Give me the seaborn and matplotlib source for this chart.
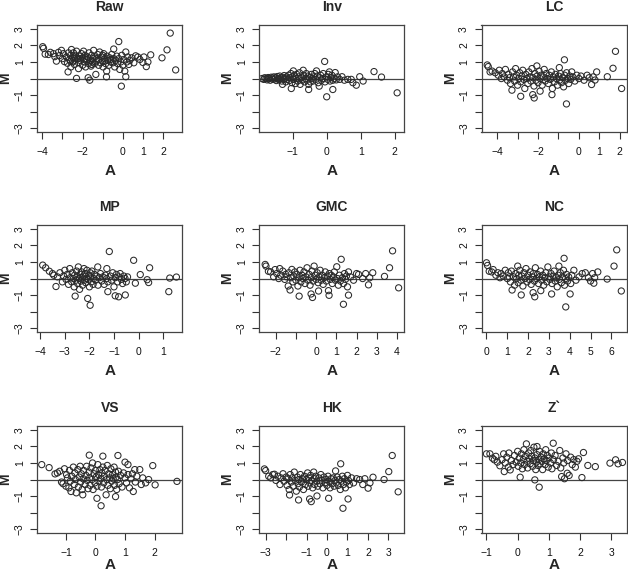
import matplotlib
matplotlib.use("Agg")
import matplotlib.pyplot as plt
import seaborn as sns

titles = ["Raw", "Inv", "LC", "MP", "GMC", "NC", "VS", "HK", "Z`"]

# (A, M) pairs
raw_pts = [
    (-3.98, 1.92), (-3.94, 1.82), (-3.86, 1.47), (-3.7, 1.45), (-3.6, 1.58), (-3.45, 1.5),
    (-3.38, 1.32), (-3.3, 1.05), (-3.2, 1.58), (-3.15, 1.38), (-3.05, 1.7), (-3.0, 1.2),
    (-2.95, 1.5), (-2.9, 1.02), (-2.8, 1.3), (-2.75, 0.92), (-2.72, 0.4), (-2.7, 1.55),
    (-2.65, 1.15), (-2.6, 1.4), (-2.58, 0.7), (-2.55, 1.75), (-2.5, 1.0), (-2.48, 1.25),
    (-2.45, 1.55), (-2.4, 0.85), (-2.38, 1.1), (-2.35, 1.4), (-2.3, 0.01), (-2.3, 1.65),
    (-2.25, 1.2), (-2.2, 0.6), (-2.2, 0.95), (-2.15, 1.35), (-2.1, 1.08), (-2.05, 1.5),
    (-2.0, 0.8), (-2.0, 1.25), (-1.95, 1.65), (-1.9, 1.0), (-1.88, 1.4), (-1.85, 0.7),
    (-1.8, 1.15), (-1.75, 1.3), (-1.72, 0.05), (-1.7, 0.9), (-1.68, 1.55), (-1.64, -0.1),
    (-1.6, 1.1), (-1.58, 0.75), (-1.55, 1.4), (-1.5, 1.0), (-1.48, 1.2), (-1.45, 1.7),
    (-1.4, 0.9), (-1.38, 1.3), (-1.34, 0.25), (-1.3, 1.05), (-1.25, 1.45), (-1.2, 0.8),
    (-1.2, 1.15), (-1.15, 1.6), (-1.1, 0.95), (-1.05, 1.3), (-1.0, 1.05), (-0.98, 0.7),
    (-0.95, 1.5), (-0.9, 1.2), (-0.85, 0.9), (-0.81, 0.1), (-0.8, 0.45), (-0.78, 1.35),
    (-0.75, 1.1), (-0.7, 0.8), (-0.65, 1.25), (-0.6, 1.0), (-0.55, 1.45), (-0.5, 0.95),
    (-0.45, 1.78), (-0.45, 1.2), (-0.4, 0.7), (-0.35, 1.1), (-0.3, 1.35), (-0.25, 0.9),
    (-0.2, 2.23), (-0.2, 1.2), (-0.15, 0.55), (-0.1, 1.0), (-0.07, -0.46), (-0.05, 1.4),
    (0.0, 0.8), (0.05, 1.15), (0.1, 0.45), (0.15, 0.11), (0.15, 1.6), (0.2, 1.0),
    (0.25, 1.3), (0.3, 0.85), (0.35, 1.1), (0.45, 1.25), (0.55, 0.95), (0.64, 1.37),
    (0.75, 1.3), (0.85, 1.15), (1.0, 0.97), (1.05, 1.3), (1.17, 0.72), (1.25, 1.0),
    (1.39, 1.43), (1.95, 1.25), (2.2, 1.73), (2.36, 2.74), (2.63, 0.52),
    (-2.6, 1.05), (-2.1, 1.2), (-1.65, 1.0), (-1.3, 1.2), (-0.9, 1.05), (-1.9, 1.2),
    (-2.4, 1.3), (-1.0, 1.4), (-0.6, 1.15), (-1.55, 0.85),
]

inv_pts = [
    (-1.9, 0.0), (-1.85, -0.05), (-1.82, 0.05), (-1.78, 0.0), (-1.75, -0.08), (-1.72, 0.06),
    (-1.7, 0.0), (-1.66, -0.1), (-1.63, 0.08), (-1.6, 0.02), (-1.58, -0.05), (-1.55, 0.1),
    (-1.52, -0.02), (-1.5, 0.05), (-1.48, -0.12), (-1.45, 0.12), (-1.42, 0.0), (-1.4, -0.08),
    (-1.38, 0.15), (-1.35, 0.03), (-1.32, -0.15), (-1.3, -0.35), (-1.3, 0.08), (-1.27, -0.05),
    (-1.25, 0.18), (-1.22, 0.0), (-1.2, -0.2), (-1.18, 0.1), (-1.15, -0.05), (-1.12, 0.2),
    (-1.1, -0.12), (-1.08, 0.05), (-1.05, 0.3), (-1.04, -0.6), (-1.02, -0.25), (-1.0, 0.1),
    (-0.98, 0.46), (-0.97, -0.05), (-0.95, 0.2), (-0.92, -0.3), (-0.9, 0.0), (-0.88, 0.25),
    (-0.85, -0.15), (-0.82, 0.1), (-0.8, 0.35), (-0.78, -0.35), (-0.75, 0.05), (-0.72, -0.1),
    (-0.69, 0.5), (-0.68, 0.2), (-0.65, -0.2), (-0.62, 0.0), (-0.6, 0.3), (-0.58, -0.1),
    (-0.55, 0.15), (-0.53, -0.35), (-0.53, -0.66), (-0.5, 0.05), (-0.48, -0.2), (-0.45, 0.25),
    (-0.42, 0.0), (-0.4, -0.15), (-0.38, 0.1), (-0.35, 0.3), (-0.32, -0.05), (-0.3, 0.46),
    (-0.28, 0.15), (-0.25, -0.25), (-0.22, -0.46), (-0.2, 0.05), (-0.18, 0.2), (-0.15, -0.1),
    (-0.12, 0.0), (-0.1, 0.3), (-0.06, 1.03), (-0.05, -0.2), (0.0, -1.1), (0.0, 0.1),
    (0.03, -0.05), (0.05, 0.25), (0.08, 0.4), (0.1, -0.15), (0.12, 0.05), (0.15, 0.2),
    (0.18, -0.66), (0.18, -0.1), (0.22, 0.0), (0.25, 0.36), (0.28, -0.08), (0.32, 0.1),
    (0.38, -0.05), (0.45, 0.11), (0.52, -0.1), (0.62, -0.05), (0.72, -0.05), (0.77, -0.25),
    (0.87, -0.4), (0.97, 0.11), (1.07, -0.15), (1.39, 0.42), (1.61, 0.09), (2.07, -0.86),
]

lc_pts = [
    (-4.49, 0.82), (-4.44, 0.72), (-4.35, 0.4), (-4.25, 0.45), (-4.1, 0.35), (-3.95, 0.2),
    (-3.9, 0.5), (-3.8, 0.0), (-3.75, 0.3), (-3.65, 0.1), (-3.6, 0.55), (-3.5, -0.1),
    (-3.45, 0.25), (-3.4, 0.05), (-3.35, -0.3), (-3.28, -0.7), (-3.25, 0.4), (-3.2, 0.1),
    (-3.15, -0.15), (-3.1, 0.6), (-3.05, 0.2), (-3.0, -0.4), (-2.95, 0.0), (-2.9, 0.35),
    (-2.85, -1.07), (-2.85, -0.2), (-2.8, 0.15), (-2.75, 0.5), (-2.7, -0.05), (-2.65, -0.6),
    (-2.6, 0.25), (-2.55, 0.0), (-2.5, -0.3), (-2.45, 0.4), (-2.4, 0.1), (-2.35, -0.15),
    (-2.3, 0.6), (-2.26, -0.97), (-2.25, 0.05), (-2.2, -0.45), (-2.19, -1.17), (-2.15, 0.3),
    (-2.1, -0.1), (-2.06, 0.76), (-2.05, 0.15), (-2.0, -0.25), (-1.95, 0.45), (-1.9, -0.76),
    (-1.9, 0.0), (-1.85, 0.2), (-1.8, -0.4), (-1.75, 0.1), (-1.7, 0.55), (-1.65, -0.15),
    (-1.6, 0.3), (-1.55, 0.0), (-1.5, -0.3), (-1.45, 0.2), (-1.4, -0.05), (-1.35, 0.4),
    (-1.32, -0.97), (-1.3, -0.6), (-1.25, 0.1), (-1.2, -0.2), (-1.15, 0.25), (-1.1, 0.0),
    (-1.05, -0.4), (-1.0, 0.15), (-0.96, 0.66), (-0.95, -0.1), (-0.9, 0.3), (-0.85, -0.25),
    (-0.8, 0.05), (-0.75, -0.5), (-0.71, 1.13), (-0.7, 0.2), (-0.65, -0.1), (-0.61, -1.53),
    (-0.6, 0.35), (-0.55, 0.0), (-0.5, -0.3), (-0.45, 0.15), (-0.4, -0.05), (-0.35, 0.4),
    (-0.3, 0.1), (-0.2, -0.15), (-0.1, 0.2), (0.0, 0.0), (0.1, 0.15), (0.25, -0.1),
    (0.4, 0.2), (0.5, 0.05), (0.62, -0.36), (0.7, 0.1), (0.79, -0.09), (0.87, 0.4),
    (1.39, 0.11), (1.67, 0.62), (1.79, 1.64), (2.09, -0.6),
]

mp_pts = [
    (-3.9, 0.81), (-3.78, 0.65), (-3.63, 0.44), (-3.5, 0.3), (-3.45, 0.2), (-3.36, -0.48),
    (-3.3, 0.1), (-3.2, 0.35), (-3.1, -0.2), (-3.05, 0.15), (-3.0, 0.5), (-2.95, -0.05),
    (-2.9, 0.25), (-2.85, -0.35), (-2.8, 0.6), (-2.78, 0.05), (-2.72, -0.2), (-2.7, 0.35),
    (-2.65, 0.0), (-2.62, -0.5), (-2.6, 0.2), (-2.58, -1.06), (-2.55, -0.1), (-2.52, 0.45),
    (-2.5, 0.1), (-2.48, -0.3), (-2.45, 0.7), (-2.42, 0.0), (-2.4, -0.65), (-2.38, 0.25),
    (-2.35, -0.15), (-2.32, 0.4), (-2.3, 0.05), (-2.28, -0.4), (-2.25, 0.15), (-2.22, 0.6),
    (-2.2, -0.1), (-2.18, 0.3), (-2.15, -0.25), (-2.12, 0.0), (-2.1, 0.5), (-2.07, -1.2),
    (-2.05, -0.05), (-2.02, 0.2), (-2.0, -0.5), (-1.97, -1.61), (-1.97, 0.35), (-1.95, 0.1),
    (-1.92, -0.2), (-1.9, 0.45), (-1.85, -0.35), (-1.82, 0.0), (-1.8, 0.25), (-1.75, -0.1),
    (-1.7, 0.15), (-1.66, 0.7), (-1.65, -0.4), (-1.6, 0.05), (-1.55, 0.3), (-1.5, -0.15),
    (-1.45, 0.1), (-1.4, -0.35), (-1.35, 0.2), (-1.3, 0.0), (-1.29, 0.6), (-1.25, -0.79),
    (-1.25, -0.2), (-1.19, 1.63), (-1.15, 0.15), (-1.1, -0.1), (-1.05, 0.35), (-1.0, -0.5),
    (-0.95, -1.04), (-0.95, 0.05), (-0.9, 0.25), (-0.85, -0.2), (-0.81, -1.1), (-0.8, 0.1),
    (-0.75, 0.3), (-0.7, -0.05), (-0.65, -0.3), (-0.6, 0.15), (-0.54, -0.99), (-0.55, 0.0),
    (-0.5, -0.2), (-0.45, 0.1), (-0.2, 1.1), (-0.13, -0.28), (0.07, 0.24), (0.35, -0.07),
    (0.41, -0.24), (0.45, 0.65), (1.23, -0.79), (1.27, 0.03), (1.54, 0.09),
]

gmc_pts = [
    (-2.52, 0.85), (-2.48, 0.75), (-2.36, 0.44), (-2.25, 0.4), (-2.1, 0.1), (-2.03, 0.54),
    (-1.95, 0.3), (-1.85, 0.0), (-1.8, 0.6), (-1.75, 0.2), (-1.65, 0.45), (-1.55, -0.05),
    (-1.5, 0.25), (-1.45, 0.1), (-1.38, -0.45), (-1.35, 0.35), (-1.29, -0.69), (-1.25, 0.05),
    (-1.2, 0.55), (-1.15, -0.2), (-1.1, 0.15), (-1.05, 0.4), (-1.0, -0.1), (-0.95, 0.25),
    (-0.9, -0.45), (-0.85, 0.05), (-0.84, -1.06), (-0.8, 0.5), (-0.75, -0.2), (-0.7, 0.2),
    (-0.65, 0.0), (-0.6, 0.4), (-0.55, -0.3), (-0.5, 0.1), (-0.45, 0.65), (-0.4, -0.1),
    (-0.35, 0.25), (-0.3, -0.4), (-0.25, -0.93), (-0.25, 0.05), (-0.2, 0.45), (-0.18, -1.14),
    (-0.15, -0.15), (-0.1, 0.75), (-0.05, 0.2), (0.0, -0.05), (0.05, 0.35), (0.1, -0.25),
    (0.12, -0.75), (0.15, 0.1), (0.2, 0.5), (0.25, -0.1), (0.3, 0.2), (0.35, -0.35),
    (0.4, 0.05), (0.45, 0.4), (0.5, -0.15), (0.55, 0.15), (0.61, -0.73), (0.64, -1.01),
    (0.65, 0.3), (0.7, -0.05), (0.75, 0.2), (0.8, -0.3), (0.85, 0.1), (0.9, 0.4),
    (0.95, -0.1), (1.02, 0.71), (1.05, 0.0), (1.1, -0.4), (1.15, 0.2), (1.2, -0.15),
    (1.24, 1.16), (1.3, 0.05), (1.35, -1.55), (1.35, -0.3), (1.4, 0.3), (1.45, -0.05),
    (1.5, 0.15), (1.55, -0.5), (1.6, -1.0), (1.6, 0.4), (1.7, 0.1), (1.85, -0.1),
    (2.0, 0.3), (2.1, 0.25), (2.3, 0.0), (2.45, 0.3), (2.59, -0.38), (2.65, 0.05),
    (2.8, 0.35), (3.38, 0.13), (3.63, 0.65), (3.78, 1.67), (4.08, -0.56),
]

nc_pts = [
    (0.0, 0.95), (0.05, 0.79), (0.13, 0.44), (0.25, 0.4), (0.32, 0.54), (0.45, 0.2),
    (0.55, 0.35), (0.65, 0.05), (0.7, 0.3), (0.8, 0.15), (0.9, 0.5), (1.0, 0.0),
    (1.05, 0.35), (1.1, 0.1), (1.15, -0.2), (1.2, 0.45), (1.23, -0.69), (1.3, 0.1),
    (1.35, -0.4), (1.4, 0.3), (1.45, 0.0), (1.5, 0.75), (1.52, -0.25), (1.55, 0.2),
    (1.6, 0.5), (1.65, -0.1), (1.67, -0.99), (1.7, 0.15), (1.75, -0.45), (1.8, 0.35),
    (1.85, 0.0), (1.9, 0.6), (1.95, -0.2), (2.0, 0.2), (2.05, -0.05), (2.1, 0.4),
    (2.15, -0.35), (2.2, 0.1), (2.24, -0.85), (2.25, 0.3), (2.3, -0.15), (2.32, -1.1),
    (2.35, 0.65), (2.4, 0.0), (2.45, 0.25), (2.5, -0.3), (2.55, 0.1), (2.6, 0.45),
    (2.61, -0.73), (2.65, -0.1), (2.7, 0.2), (2.75, -0.4), (2.8, 0.05), (2.85, 0.35),
    (2.9, -0.2), (2.95, 0.7), (3.0, 0.1), (3.05, -0.05), (3.1, 0.3), (3.13, -0.93),
    (3.15, -0.3), (3.2, 0.15), (3.25, 0.45), (3.3, -0.15), (3.35, 0.05), (3.4, -0.5),
    (3.45, 0.2), (3.48, 0.75), (3.5, -0.05), (3.55, 0.35), (3.6, -0.25), (3.65, 0.1),
    (3.7, 0.5), (3.73, 1.22), (3.75, -0.4), (3.8, 0.0), (3.81, -1.71), (3.85, 0.25),
    (3.9, -0.15), (3.95, 0.1), (4.02, -0.93), (4.05, -0.3), (4.1, 0.2), (4.2, 0.5),
    (4.3, -0.1), (4.45, 0.1), (4.6, 0.3), (4.75, 0.35), (4.9, 0.05), (5.0, -0.15),
    (5.1, 0.3), (5.16, -0.28), (5.2, 0.05), (5.35, 0.4), (5.8, -0.03), (6.13, 0.75),
    (6.26, 1.73), (6.48, -0.75),
]

vs_pts = [
    (-1.82, 0.9), (-1.57, 0.72), (-1.37, 0.34), (-1.29, 0.4), (-1.21, 0.5), (-1.15, -0.15),
    (-1.1, -0.25), (-1.05, 0.65), (-1.0, -0.4), (-0.98, 0.3), (-0.95, 0.1), (-0.9, -0.5),
    (-0.88, 0.55), (-0.85, -0.1), (-0.83, -0.72), (-0.8, 0.2), (-0.75, 0.75), (-0.72, -0.3),
    (-0.7, 0.4), (-0.68, 0.0), (-0.65, -0.8), (-0.6, 0.6), (-0.58, -0.45), (-0.55, 0.15),
    (-0.52, 0.8), (-0.5, -0.15), (-0.48, 0.35), (-0.45, -0.6), (-0.43, -0.92), (-0.42, 0.05),
    (-0.4, 0.55), (-0.35, -0.3), (-0.32, 0.25), (-0.3, 0.8), (-0.28, -0.05), (-0.25, -0.55),
    (-0.22, 0.45), (-0.21, 1.47), (-0.2, 0.1), (-0.18, -0.35), (-0.15, 0.7), (-0.12, 0.0),
    (-0.1, 1.0), (-0.08, -0.6), (-0.05, 0.35), (-0.02, -0.2), (0.0, 0.55), (0.02, 0.15),
    (0.05, -1.13), (0.05, -0.4), (0.08, 0.9), (0.1, 0.3), (0.12, -0.1), (0.15, 0.6),
    (0.18, 0.05), (0.19, -1.58), (0.2, -0.45), (0.22, 0.4), (0.25, 1.41), (0.25, 0.75),
    (0.28, -0.2), (0.3, 0.2), (0.33, 0.55), (0.36, -0.92), (0.38, 0.0), (0.4, 0.85),
    (0.42, -0.35), (0.45, 0.35), (0.48, 0.1), (0.5, -0.55), (0.52, 0.65), (0.55, -0.1),
    (0.58, 0.3), (0.6, 0.05), (0.63, 0.75), (0.65, -0.35), (0.68, -1.03), (0.68, 0.45),
    (0.7, 0.15), (0.72, -0.6), (0.75, 0.0), (0.76, 1.45), (0.78, 0.5), (0.8, -0.25),
    (0.85, 0.25), (0.9, -0.45), (0.95, 0.4), (1.0, 1.05), (1.0, 0.1), (1.05, -0.2),
    (1.1, 0.9), (1.1, 0.3), (1.15, -0.5), (1.2, 0.05), (1.25, 0.35), (1.28, -0.72),
    (1.33, 0.6), (1.35, -0.15), (1.4, 0.2), (1.5, 0.6), (1.55, -0.3), (1.6, 0.1),
    (1.7, -0.2), (1.8, 0.0), (1.94, 0.84), (2.02, -0.32), (2.76, -0.11),
]

hk_pts = [
    (-3.06, 0.64), (-3.0, 0.54), (-2.85, 0.2), (-2.75, 0.1), (-2.65, 0.3), (-2.57, 0.32),
    (-2.5, -0.05), (-2.4, 0.2), (-2.3, -0.3), (-2.25, 0.1), (-2.15, 0.35), (-2.1, -0.1),
    (-2.0, 0.15), (-1.95, -0.35), (-1.9, 0.05), (-1.85, -0.6), (-1.83, -0.93), (-1.8, 0.3),
    (-1.75, -0.15), (-1.7, 0.1), (-1.65, -0.4), (-1.6, 0.45), (-1.55, -0.05), (-1.5, -0.7),
    (-1.45, 0.15), (-1.42, -0.25), (-1.39, -1.23), (-1.38, 0.0), (-1.35, -0.45), (-1.3, 0.3),
    (-1.25, -0.15), (-1.2, 0.05), (-1.15, -0.6), (-1.1, 0.2), (-1.05, -0.3), (-1.0, 0.0),
    (-0.95, 0.4), (-0.92, -0.4), (-0.88, 0.1), (-0.85, -1.17), (-0.85, -0.2), (-0.8, 0.25),
    (-0.77, -1.33), (-0.75, -0.05), (-0.7, -0.5), (-0.65, 0.45), (-0.62, 0.05), (-0.6, -0.3),
    (-0.55, 0.2), (-0.5, -0.1), (-0.49, -0.99), (-0.45, -0.4), (-0.4, 0.1), (-0.35, -0.25),
    (-0.3, 0.3), (-0.25, -0.05), (-0.2, -0.5), (-0.15, 0.15), (-0.1, -0.2), (-0.05, 0.0),
    (0.0, -0.35), (0.05, 0.2), (0.08, -1.13), (0.1, -0.1), (0.15, -0.5), (0.2, 0.05),
    (0.25, -0.25), (0.3, 0.1), (0.35, -0.4), (0.4, -0.05), (0.42, 0.52), (0.45, -0.2),
    (0.5, 0.15), (0.55, -0.35), (0.6, 0.0), (0.65, -0.6), (0.67, 0.95), (0.7, -0.1),
    (0.75, 0.2), (0.78, -1.73), (0.8, -0.3), (0.85, 0.05), (0.9, -0.5), (0.95, -0.15),
    (1.0, 0.25), (1.03, -1.17), (1.05, -0.05), (1.1, -0.3), (1.2, 0.1), (1.3, -0.2),
    (1.45, 0.05), (1.6, 0.0), (1.75, -0.3), (1.85, 0.05), (2.01, -0.52), (2.1, -0.2),
    (2.25, 0.14), (2.79, 0.0), (3.02, 0.48), (3.19, 1.45), (3.48, -0.74),
]

z_pts = [
    (-1.0, 1.55), (-0.89, 1.55), (-0.81, 1.29), (-0.75, 1.19), (-0.7, 1.4), (-0.65, 1.05),
    (-0.57, 0.83), (-0.5, 1.2), (-0.45, 1.55), (-0.43, 0.48), (-0.4, 1.0), (-0.35, 1.35),
    (-0.3, 0.75), (-0.28, 1.6), (-0.24, 0.58), (-0.2, 1.15), (-0.15, 0.9), (-0.1, 1.45),
    (-0.05, 1.05), (0.0, 1.7), (0.02, 0.8), (0.05, 1.3), (0.08, 0.14), (0.1, 1.0),
    (0.12, 1.55), (0.15, 0.65), (0.18, 1.2), (0.2, 1.8), (0.22, 0.9), (0.25, 1.4),
    (0.28, 2.15), (0.3, 1.1), (0.32, 0.7), (0.35, 1.6), (0.38, 1.25), (0.4, 0.95),
    (0.42, 1.75), (0.45, 1.4), (0.48, 0.8), (0.5, 1.15), (0.52, 1.95), (0.55, -0.02),
    (0.55, 1.3), (0.58, 0.6), (0.6, 1.05), (0.62, 1.99), (0.62, 1.5), (0.65, 0.85),
    (0.68, 1.2), (0.69, -0.46), (0.7, 1.7), (0.72, 0.95), (0.75, 1.35), (0.78, 1.1),
    (0.8, 0.6), (0.82, 1.55), (0.85, 1.25), (0.88, 0.9), (0.9, 1.8), (0.92, 1.15),
    (0.95, 1.45), (0.98, 0.75), (1.0, 1.3), (1.05, 1.0), (1.08, 1.6), (1.1, 0.65),
    (1.14, 2.19), (1.15, 1.2), (1.2, 1.45), (1.25, 0.85), (1.3, 1.1), (1.35, 1.75),
    (1.38, 0.7), (1.41, 0.18), (1.45, 1.3), (1.48, 1.0), (1.5, 0.05), (1.55, 1.55),
    (1.59, 0.38), (1.6, 1.15), (1.65, 0.25), (1.7, 1.35), (1.75, 0.9), (1.8, 1.2),
    (1.85, 0.75), (1.9, 1.1), (1.95, 1.25), (2.06, 0.12), (2.11, 1.63), (2.25, 0.85),
    (2.49, 0.78), (2.96, 0.99), (3.14, 1.19), (3.22, 0.95), (3.36, 1.03),
]

panel_pts = [raw_pts, inv_pts, lc_pts, mp_pts, gmc_pts, nc_pts, vs_pts, hk_pts, z_pts]

x_limits = [(-4.25, 2.96), (-1.98, 2.28), (-4.77, 2.33),
            (-4.12, 1.78), (-2.81, 4.36), (-0.24, 6.73),
            (-1.97, 2.94), (-3.31, 3.78), (-1.16, 3.49)]

x_ticks = [[-4, -3, -2, -1, 0, 1, 2], [-1, 0, 1, 2], [-4, -3, -2, -1, 0, 1, 2],
           [-4, -3, -2, -1, 0, 1], [-2, -1, 0, 1, 2, 3, 4], [0, 1, 2, 3, 4, 5, 6],
           [-1, 0, 1, 2], [-3, -2, -1, 0, 1, 2, 3], [-1, 0, 1, 2, 3]]
# labels R dropped because they would overlap
x_hidden = [[-3, -1], [], [-3, -1], [], [-1], [], [], [-2], []]

y_ticks = [-3, -2, -1, 0, 1, 2, 3]
y_labels = ["\u22123", "", "\u22121", "", "1", "2", "3"]

sns.set_style("ticks")
plt.rcParams["font.family"] = ["Liberation Sans", "DejaVu Sans"]

fig = plt.figure(figsize=(6.28, 5.73), dpi=100)
W, H = 628, 573
lefts = [37.3, 259.3, 481.5]
bottoms = [132.3, 332.3, 533.3]
bw, bh = 145, 107.5
xlab_gap = [38.7, 38.7, 31.5]  # last row pulled up so "A" stays inside

for i, pts in enumerate(panel_pts):
    r, c = divmod(i, 3)
    ax = fig.add_axes([lefts[c] / W, 1 - bottoms[r] / H, bw / W, bh / H])
    a = [p[0] for p in pts]
    m = [p[1] for p in pts]
    sns.scatterplot(x=a, y=m, ax=ax, marker="o", s=20, facecolor="none",
                    edgecolor="#2a2a2a", linewidth=0.75)
    ax.axhline(0, color="#444444", lw=0.9, zorder=0)
    ax.set_xlim(*x_limits[i])
    ax.set_ylim(-3.24, 3.24)
    ax.set_xticks(x_ticks[i])
    ax.set_xticklabels(["" if t in x_hidden[i] else str(t).replace("-", "\u2212")
                        for t in x_ticks[i]])
    ax.set_yticks(y_ticks)
    ax.set_yticklabels(y_labels, rotation=90, va="center")
    ax.tick_params(axis="both", direction="out", length=5, width=0.8,
                   color="#333333", labelsize=7.5, labelcolor="#111111")
    ax.tick_params(axis="x", pad=5.5)
    ax.tick_params(axis="y", pad=4)
    for sp in ax.spines.values():
        sp.set_visible(True)
        sp.set_color("#444444")
        sp.set_linewidth(0.9)
    ax.set_title(titles[i], fontsize=10, fontweight="bold", pad=10)
    ax.set_xlabel("A", fontsize=11, fontweight="bold")
    ax.set_ylabel("M", fontsize=10, fontweight="bold")
    ax.xaxis.set_label_coords(0.5, -xlab_gap[r] / bh)
    ax.xaxis.label.set_va("center")
    ax.yaxis.set_label_coords(-31.8 / bw, 0.5)
    ax.yaxis.label.set_va("center")

fig.savefig("out.png", dpi=100)
